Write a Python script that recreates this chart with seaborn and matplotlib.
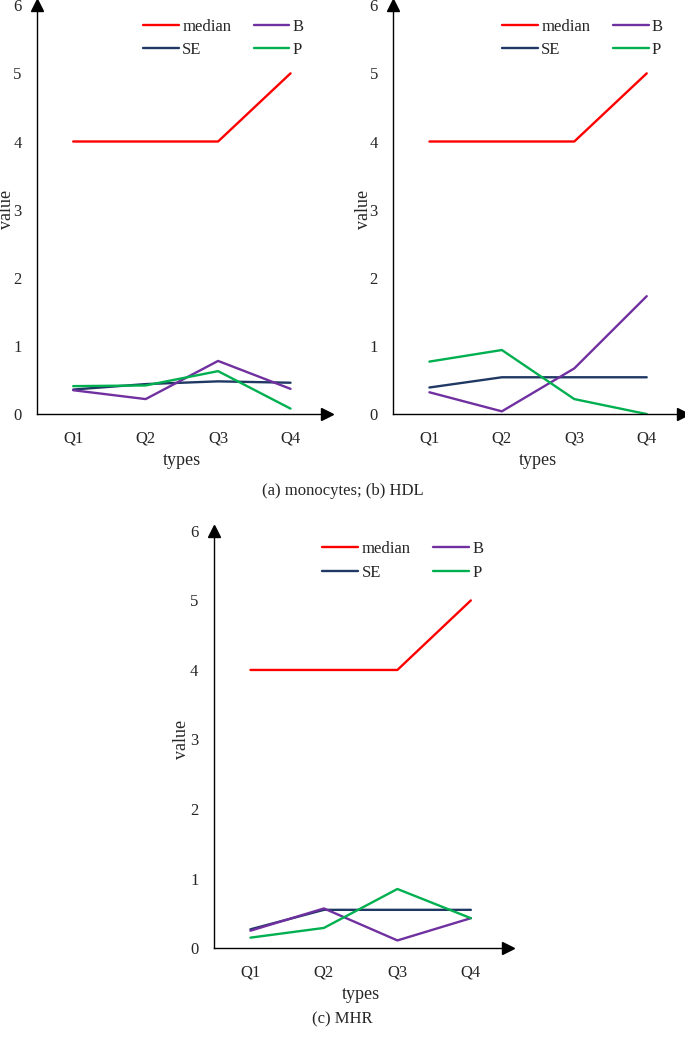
import pandas as pd
import numpy as np
import matplotlib.pyplot as plt
import seaborn as sns

# ------------ Data -------------------------------------
types = ["Q1", "Q2", "Q3", "Q4"]
series = ["median", "SE", "B", "P"]

median_a = [4, 4, 4, 5]
se_a = [0.36, 0.44, 0.48, 0.46]
b_a = [0.35, 0.22, 0.78, 0.37]
p_a = [0.41, 0.42, 0.63, 0.08]

median_b = [4, 4, 4, 5]
se_b = [0.39, 0.54, 0.54, 0.54]
b_b = [0.32, 0.04, 0.67, 1.73]
p_b = [0.77, 0.94, 0.22, 0.0]

median_c = [4, 4, 4, 5]
se_c = [0.27, 0.55, 0.55, 0.55]
b_c = [0.25, 0.57, 0.11, 0.43]
p_c = [0.15, 0.29, 0.85, 0.43]

colors = {"median": "#FF0000", "SE": "#1F3864", "B": "#7030A0", "P": "#00B050"}


def make_df(med, se, b, p):
    rows = []
    for name, vals in zip(series, [med, se, b, p]):
        for t, v in zip(types, vals):
            rows.append({"types": t, "value": v, "series": name})
    return pd.DataFrame(rows)


sns.set_style("white")
plt.rcParams["font.family"] = ["Liberation Serif", "DejaVu Serif"]

fig = plt.figure(figsize=(6.85, 10.43), dpi=100)

# axes positions in figure fraction
ax_a = fig.add_axes([0.054, 0.603, 0.423, 0.392])
ax_b = fig.add_axes([0.574, 0.603, 0.423, 0.392])
ax_c = fig.add_axes([0.312, 0.091, 0.429, 0.400])

# (axes, data, legend anchor, ylabel x)
panels = [
    (ax_a, make_df(median_a, se_a, b_a, p_a), (0.314, 1.004), -0.076),
    (ax_b, make_df(median_b, se_b, b_b, p_b), (0.324, 1.004), -0.072),
    (ax_c, make_df(median_c, se_c, b_c, p_c), (0.319, 1.011), -0.082),
]

for ax, df, anchor, ylx in panels:
    sns.lineplot(data=df, x="types", y="value", hue="series", hue_order=series,
                 palette=colors, sort=False, linewidth=1.7, ax=ax)
    ax.set_xlim(-0.5, 3.5)
    ax.set_ylim(0, 6)
    ax.set_yticks(range(0, 7))
    for s in ["top", "right"]:
        ax.spines[s].set_visible(False)
    for s in ["left", "bottom"]:
        ax.spines[s].set_color("black")
        ax.spines[s].set_linewidth(1.0)
    ax.tick_params(axis="y", direction="in", length=4, width=0.8, pad=11, labelsize=12)
    ax.tick_params(axis="x", length=0, pad=12, labelsize=12)
    ax.set_xlabel("types", fontsize=13, labelpad=4)
    ax.set_ylabel("value", fontsize=13)
    ax.yaxis.set_label_coords(ylx, 0.5)
    # arrow heads
    ax.plot(1, 0, ">k", markersize=9, transform=ax.transAxes, clip_on=False)
    ax.plot(0, 1, "^k", markersize=9, transform=ax.transAxes, clip_on=False)
    handles, labels = ax.get_legend_handles_labels()
    ax.legend(handles, labels, ncol=2, frameon=False, loc="upper left",
              bbox_to_anchor=anchor, fontsize=12, handlelength=2.15,
              handletextpad=0.2, columnspacing=1.35, labelspacing=0.45)

fig.text(0.5, 0.529, "(a) monocytes; (b) HDL", ha="center", va="center", fontsize=12)
fig.text(0.5, 0.023, "(c) MHR", ha="center", va="center", fontsize=12)

fig.savefig("out.png", dpi=100)
